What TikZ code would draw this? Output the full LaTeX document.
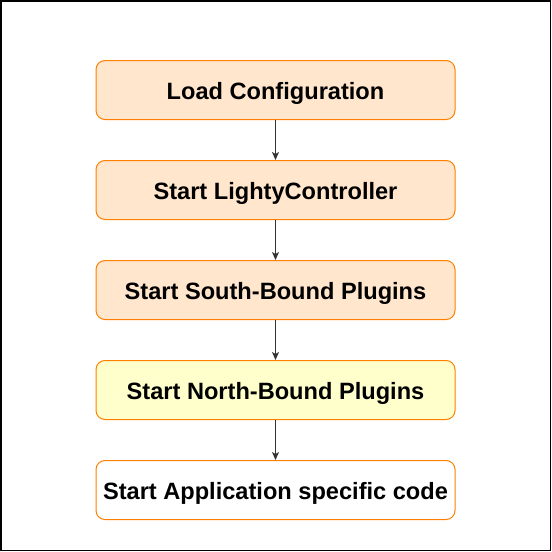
\documentclass[tikz,border=0pt]{standalone}
\usepackage{fontspec}
\setmainfont{Liberation Sans}
\usetikzlibrary{arrows.meta}
\definecolor{peach}{HTML}{FFE6CC}
\definecolor{paleyellow}{HTML}{FFFFCC}
\definecolor{orangeline}{HTML}{FF8000}
\tikzset{
  stepbox/.style={draw=orangeline, line width=1pt, rounded corners=9pt,
    minimum width=359pt, minimum height=59pt, inner sep=0pt,
    text height=18.6pt, text depth=0pt,
    font=\fontsize{23.6}{28}\selectfont\bfseries, text=black},
  flow/.style={draw=black!80, line width=1pt, -{Stealth[length=8pt,width=7pt,inset=2pt]}}
}
\begin{document}
\begin{tikzpicture}[x=1pt,y=-1pt]
\useasboundingbox (0,0) rectangle (552,552);
\draw[line width=1.5pt] (0.75,0.75) rectangle (550.25,550.25);
\node[stepbox, fill=peach] (a) at (275.5,90) {Load Configuration};
\node[stepbox, fill=peach] (b) at (275.5,190) {Start LightyController};
\node[stepbox, fill=peach] (c) at (275.5,290) {Start South-Bound Plugins};
\node[stepbox, fill=paleyellow] (d) at (275.5,390) {Start North-Bound Plugins};
\node[stepbox, fill=white] (e) at (275.5,490) {Start Application specific code};
\draw[flow] (a) -- (b);
\draw[flow] (b) -- (c);
\draw[flow] (c) -- (d);
\draw[flow] (d) -- (e);
\end{tikzpicture}
\end{document}
